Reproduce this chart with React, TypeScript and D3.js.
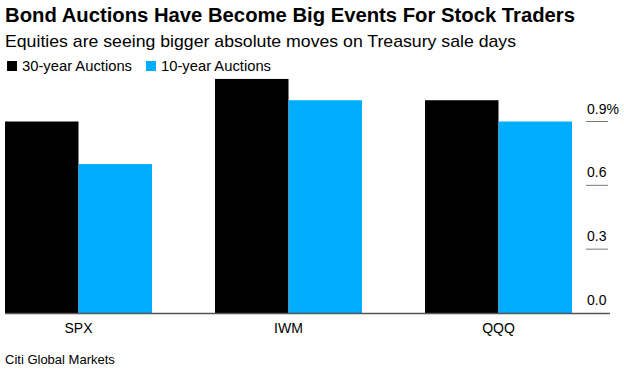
import React from "react";
import * as d3 from "d3";

const categories = ["SPX", "IWM", "QQQ"];
const series = ["30-year Auctions", "10-year Auctions"];
const values30 = [0.9, 1.1, 1.0];
const values10 = [0.7, 1.0, 0.9];
const tickValues = [0, 0.3, 0.6, 0.9];
const tickLabels = ["0.0", "0.3", "0.6", "0.9%"];
const colors = ["#000000", "#00adff"];

export default function App() {
  const W = 624;
  const H = 380;
  const baseY = 313;
  const y = d3.scaleLinear().domain([0, 0.9]).range([baseY, 121.5]);
  const x0 = d3.scaleBand<string>().domain(categories).range([5, 572]).paddingInner(0.3).paddingOuter(0);
  const x1 = d3.scaleBand<string>().domain(series).range([0, x0.bandwidth()]).padding(0);
  const seriesValues = [values30, values10];
  const font = "'Liberation Sans', Arial, Helvetica, sans-serif";

  return (
    <svg width={W} height={H} style={{ position: "absolute", left: 0, top: 0, background: "#fff" }} fontFamily={font}>
      <text x={5} y={22} fontSize={20} fontWeight="bold" fill="#000" textLength={570} lengthAdjust="spacingAndGlyphs">
        Bond Auctions Have Become Big Events For Stock Traders
      </text>
      <text x={5} y={47} fontSize={17} fill="#000" textLength={511} lengthAdjust="spacingAndGlyphs">
        Equities are seeing bigger absolute moves on Treasury sale days
      </text>
      {series.map((s, i) => {
        const lx = i === 0 ? 7 : 146;
        return (
          <g key={s}>
            <rect x={lx} y={61} width={10} height={10} fill={colors[i]} />
            <text x={lx + 15} y={71} fontSize={14} fill="#000" textLength={110} lengthAdjust="spacingAndGlyphs">
              {s}
            </text>
          </g>
        );
      })}
      {tickValues.map((t, i) => (
        <g key={t}>
          {i > 0 && <line x1={586} x2={608} y1={y(t)} y2={y(t)} stroke="#777" strokeWidth={1} />}
          <text x={587} y={y(t) - 8} fontSize={14} fill="#000">
            {tickLabels[i]}
          </text>
        </g>
      ))}
      {categories.map((c, ci) => (
        <g key={c} transform={`translate(${x0(c)},0)`}>
          {series.map((s, si) => {
            const v = seriesValues[si][ci];
            return (
              <rect
                key={s}
                x={x1(s)}
                y={y(v)}
                width={x1.bandwidth()}
                height={baseY - y(v)}
                fill={colors[si]}
              />
            );
          })}
          <text x={x0.bandwidth() / 2} y={333} fontSize={14} textAnchor="middle" fill="#000">
            {c}
          </text>
        </g>
      ))}
      <line x1={5} x2={610} y1={baseY + 0.5} y2={baseY + 0.5} stroke="#555" strokeWidth={1.5} />
      <text x={5} y={364} fontSize={13} fill="#000">
        Citi Global Markets
      </text>
    </svg>
  );
}
